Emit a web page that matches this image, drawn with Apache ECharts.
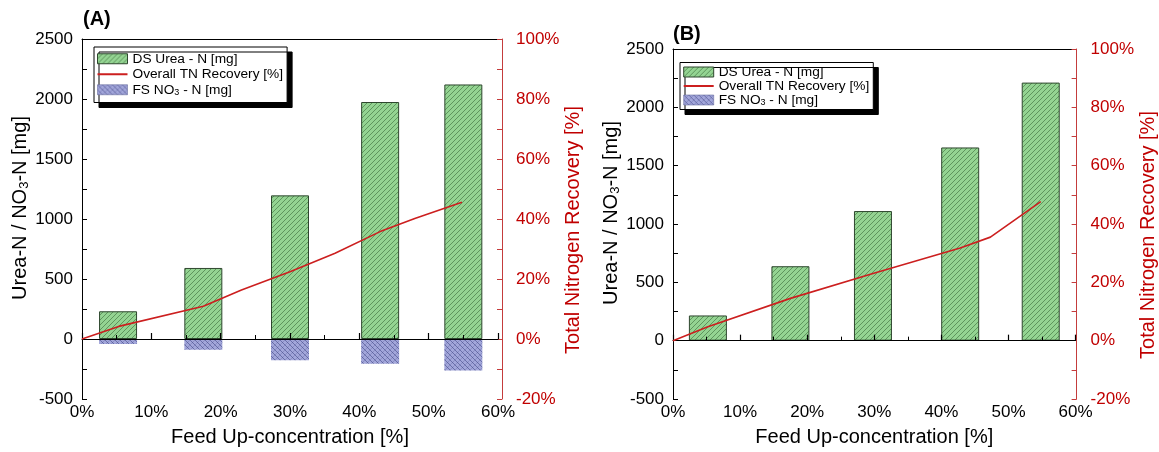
<!DOCTYPE html>
<html><head><meta charset="utf-8">
<script src="https://cdn.jsdelivr.net/npm/echarts@6/dist/echarts.min.js"></script>
<style>html,body{margin:0;padding:0;background:#fff}#c{width:1159px;height:452px}</style>
</head><body><div id="c"></div>
<script>
// ---------- data ----------
const feedA   = [5.2, 17.5, 30.0, 43.0, 55.0];
const dsUreaA = [231, 592, 1197, 1975, 2121];
const fsNO3A  = [-42, -90, -178, -206, -262];
const recXA   = [0, 5.3, 17.5, 23.0, 30.0, 36.5, 43.0, 48.0, 54.8];
const recYA   = [0, 4.2, 10.9, 16.3, 22.4, 28.6, 35.8, 40.2, 45.6];

const feedB   = [5.2, 17.5, 29.8, 42.8, 54.8];
const dsUreaB = [216, 638, 1111, 1656, 2212];
const fsNO3B  = [0, 0, 0, 0, 0];
const recXB   = [0, 5.2, 17.5, 29.8, 42.8, 47.3, 54.8];
const recYB   = [0, 4.8, 14.5, 23.0, 31.8, 35.5, 47.7];

const xRange     = [0, 60, 10];     // min, max, interval (%)
const leftRange  = [-500, 2500, 500];
const rightRange = [-20, 100, 20];

const N_DS  = 'DS Urea - N [mg]';
const N_REC = 'Overall TN Recovery [%]';
const N_FS  = 'FS NO3 - N [mg]';
const panelLabels = ['(A)', '(B)'];

// ---------- styles ----------
const FF = '"Liberation Sans", Arial, Helvetica, sans-serif';
const RED = '#c00000';
const LINE_RED = '#cc1f1f';

function hatch(bg, lines, size, sp) {
  const c = document.createElement('canvas');
  c.width = c.height = size;
  const g = c.getContext('2d');
  g.fillStyle = bg; g.fillRect(0, 0, size, size);
  lines.forEach(l => {
    g.strokeStyle = l.color; g.lineWidth = l.w;
    g.beginPath();
    for (let k = -size; k <= 2 * size; k += sp) {
      if (l.dir === '/') { g.moveTo(k, 0); g.lineTo(k - size, size); }
      else { g.moveTo(k, 0); g.lineTo(k + size, size); }
    }
    g.stroke();
  });
  return { image: c, repeat: 'repeat' };
}
const greenPat = hatch('#94d492', [{dir: '/', color: 'rgba(45,90,45,0.65)', w: 0.8}], 10, 5);
const bluePat  = hatch('#a2a6da', [{dir: '\\', color: 'rgba(45,50,115,0.6)', w: 0.8}, {dir: '/', color: 'rgba(45,50,115,0.35)', w: 0.6}], 10, 5);

const panels = [
  {grid: {left: 82, top: 39, width: 416, height: 360}, rOffset: 4, feed: feedA, ds: dsUreaA, fs: fsNO3A, rx: recXA, ry: recYA, smooth: false,
   legend: {left: 94, top: 47, padding: [4, 4, 5, 2.5], lh: 15.5}, label: {x: 83, y: 19}, tick: 17, rGap: 52},
  {grid: {left: 673, top: 49, width: 407, height: 352.5}, rOffset: 1, feed: feedB, ds: dsUreaB, fs: fsNO3B, rx: recXB, ry: recYB, smooth: false,
   legend: {left: 680, top: 62.5, padding: [2.5, 4, 2.5, 2.7], lh: 13.8}, label: {x: 673, y: 34}, tick: 17, rGap: 55}
];

const grids = [], xAxes = [], yAxes = [], series = [], legends = [], graphics = [];

function legendFmt(name) {
  if (name === N_FS) return '{n|FS NO}{s|3}{n| - N [mg]}';
  return '{n|' + name + '}';
}

panels.forEach((p, i) => {
  grids.push(Object.assign({containLabel: false}, p.grid));
  // bottom axis with labels
  xAxes.push({
    gridIndex: i, type: 'value', position: 'bottom', min: xRange[0], max: xRange[1], interval: xRange[2],
    axisLine: {show: false, onZero: false}, axisTick: {show: false}, splitLine: {show: false},
    axisLabel: {formatter: '{value}%', fontSize: p.tick, color: '#000', margin: 5, fontFamily: FF},
    name: 'Feed Up-concentration [%]', nameLocation: 'middle', nameGap: 28,
    nameTextStyle: {fontSize: 20, color: '#000', fontFamily: FF}
  });
  // zero line axis with inside ticks
  xAxes.push({
    gridIndex: i, type: 'value', position: 'bottom', min: xRange[0], max: xRange[1], interval: xRange[2], z: 10,
    axisLine: {show: true, onZero: true, lineStyle: {color: '#000', width: 1}},
    axisTick: {show: true, inside: true, length: 6, lineStyle: {color: '#000', width: 1.2}},
    minorTick: {show: true, splitNumber: 2, length: 4, lineStyle: {color: '#000', width: 1}},
    axisLabel: {show: false}, splitLine: {show: false}
  });
  // top border
  xAxes.push({
    gridIndex: i, type: 'value', position: 'top', min: xRange[0], max: xRange[1],
    axisLine: {show: true, onZero: false, lineStyle: {color: '#000', width: 1}},
    axisTick: {show: false}, axisLabel: {show: false}, splitLine: {show: false}
  });
  yAxes.push({
    gridIndex: i, type: 'value', position: 'left', min: leftRange[0], max: leftRange[1], interval: leftRange[2],
    axisLine: {show: true, onZero: false, lineStyle: {color: '#000', width: 1}},
    axisTick: {show: true, inside: true, length: 5, lineStyle: {color: '#000'}},
    minorTick: {show: true, splitNumber: 2, length: 5, lineStyle: {color: '#000'}},
    splitLine: {show: false}, minorSplitLine: {show: false},
    axisLabel: {color: '#000', fontSize: p.tick, margin: 9, fontFamily: FF, formatter: v => String(v)},
    name: '{n|Urea-N / NO}{s|3}{n|-N [mg]}', nameLocation: 'middle', nameGap: 43, nameRotate: 90,
    nameTextStyle: {color: '#000', fontSize: 20, fontFamily: FF, padding: [0, 0, 0, 22],
      rich: {n: {fontSize: 20, fontFamily: FF, color: '#000', lineHeight: 22},
             s: {fontSize: 13, fontFamily: FF, color: '#000', lineHeight: 10, verticalAlign: 'bottom'}}}
  });
  yAxes.push({
    gridIndex: i, type: 'value', position: 'right', offset: p.rOffset, min: rightRange[0], max: rightRange[1], interval: rightRange[2],
    axisLine: {show: true, onZero: false, lineStyle: {color: '#c43c3c', width: 1}},
    axisTick: {show: true, inside: true, length: 5, lineStyle: {color: '#c43c3c'}},
    minorTick: {show: true, splitNumber: 2, length: 5, lineStyle: {color: '#c43c3c'}},
    splitLine: {show: false}, minorSplitLine: {show: false},
    axisLabel: {color: RED, fontSize: p.tick, margin: 14, formatter: '{value}%', fontFamily: FF},
    name: 'Total Nitrogen Recovery [%]', nameLocation: 'middle', nameGap: p.rGap, nameRotate: 90,
    nameTextStyle: {color: RED, fontSize: 20, fontFamily: FF, padding: [0, 22, 0, 0]}
  });
  const xi = i * 3, yl = i * 2, yr = i * 2 + 1;
  series.push({
    name: N_DS, type: 'bar', xAxisIndex: xi, yAxisIndex: yl, barWidth: 38, barGap: '-100%',
    data: p.feed.map((x, k) => [x, p.ds[k]]),
    itemStyle: {color: greenPat, borderColor: '#2e472e', borderWidth: 1}, z: 2
  });
  series.push({
    name: N_FS, type: 'bar', xAxisIndex: xi, yAxisIndex: yl, barWidth: 38, barGap: '-100%',
    data: p.feed.map((x, k) => [x, p.fs[k]]),
    itemStyle: {color: bluePat, borderWidth: 0}, z: 2
  });
  series.push({
    name: N_REC, type: 'line', xAxisIndex: xi, yAxisIndex: yr, symbol: 'none', smooth: p.smooth,
    data: p.rx.map((x, k) => [x, p.ry[k]]),
    lineStyle: {color: LINE_RED, width: 1.6}, itemStyle: {color: LINE_RED}, z: 12
  });
  legends.push({
    orient: 'vertical', left: p.legend.left, top: p.legend.top, padding: p.legend.padding,
    itemWidth: 30, itemHeight: 10, itemGap: 0, selectedMode: false,
    backgroundColor: '#fff', borderColor: '#000', borderWidth: 1,
    shadowColor: '#000', shadowBlur: 0, shadowOffsetX: 5, shadowOffsetY: 5,
    data: [
      {name: N_DS, icon: 'rect', itemStyle: {borderColor: '#2e472e', borderWidth: 1}},
      {name: N_REC, itemStyle: {color: 'rgba(0,0,0,0)', borderColor: 'rgba(0,0,0,0)', borderWidth: 0, opacity: 0},
       lineStyle: {color: LINE_RED, width: 2}},
      {name: N_FS, icon: 'rect', itemStyle: {borderColor: '#6a6ea0', borderWidth: 0.6}}
    ],
    formatter: legendFmt,
    textStyle: {fontSize: 13.7, color: '#000', fontFamily: FF, lineHeight: p.legend.lh,
      rich: {n: {fontSize: 13.7, color: '#000', fontFamily: FF, lineHeight: p.legend.lh},
             s: {fontSize: 9, color: '#000', fontFamily: FF, lineHeight: 7, verticalAlign: 'bottom'}}}
  });
  graphics.push({
    type: 'text', x: p.label.x, y: p.label.y, z: 20,
    style: {text: panelLabels[i], font: 'bold 20px ' + FF, fill: '#000', verticalAlign: 'middle', align: 'left'}
  });
});

const chart = echarts.init(document.getElementById('c'), null, {renderer: 'canvas'});
chart.setOption({
  animation: false,
  backgroundColor: '#fff',
  textStyle: {fontFamily: FF},
  grid: grids, xAxis: xAxes, yAxis: yAxes, series: series, legend: legends, graphic: graphics
});
</script>
</body></html>
